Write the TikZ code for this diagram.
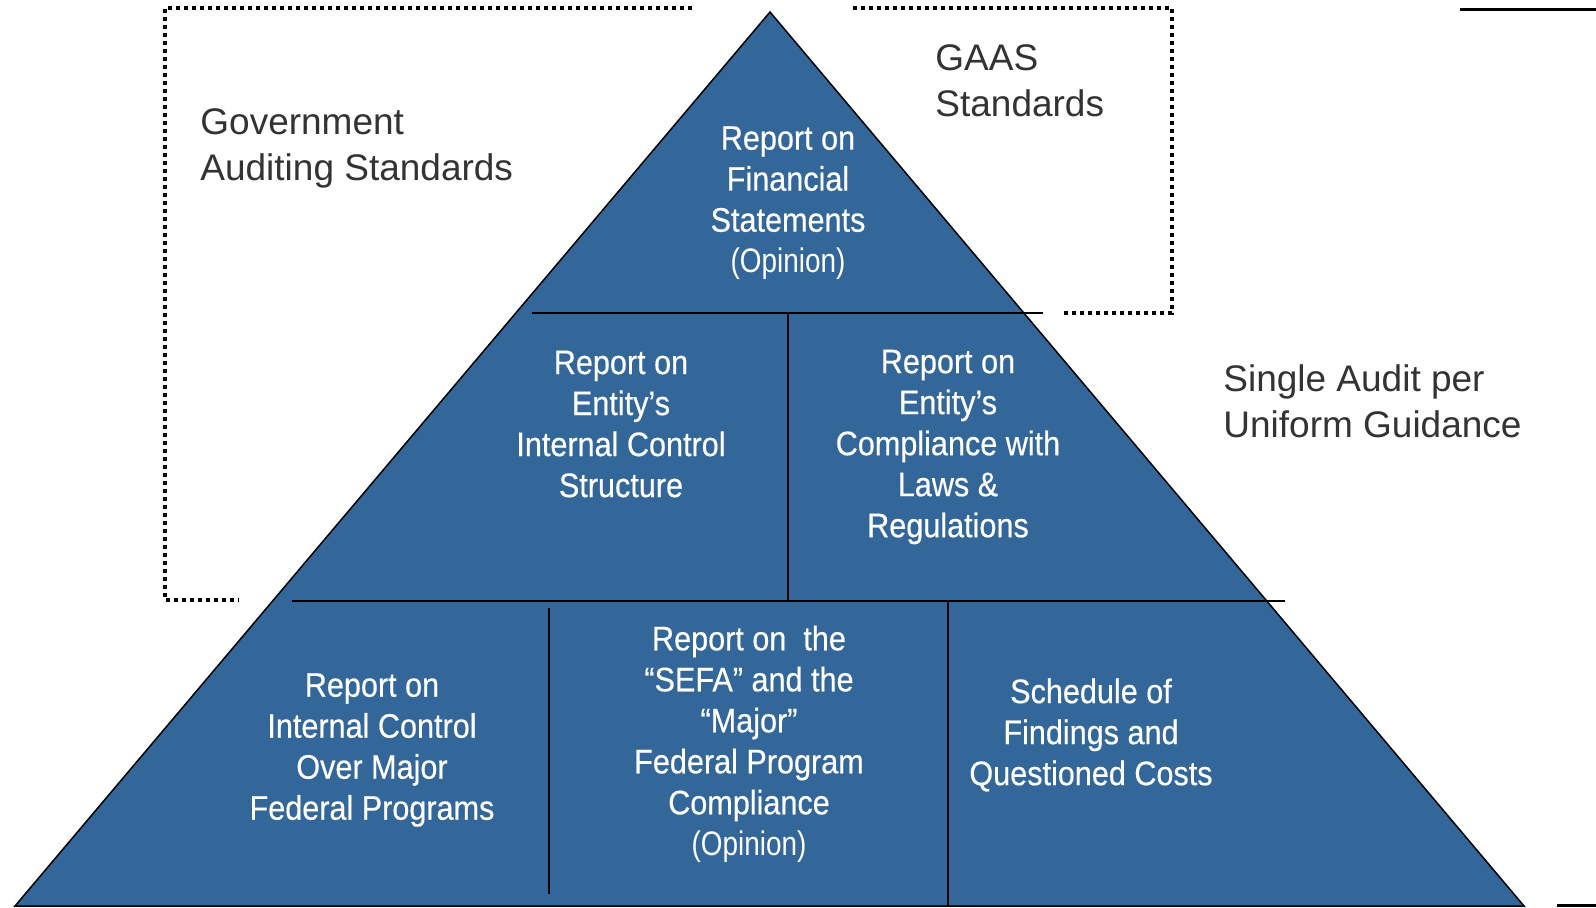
\documentclass[tikz,border=0pt]{standalone}
\usepackage{fontspec}
\usepackage{tikz}
\usepackage{xcolor}
\usetikzlibrary{calc}
\setmainfont{Liberation Sans}
\newfontfamily\narrowfont[FakeStretch=0.9,FakeBold=0.4]{Liberation Sans}
\newfontfamily\narrowlight[FakeStretch=0.82]{Liberation Sans}
\definecolor{pyramidblue}{RGB}{52,103,153}
\definecolor{labelgray}{RGB}{51,51,51}

\begin{document}
\begin{tikzpicture}[x=0.5pt,y=-0.5pt]
        \useasboundingbox (0,0) rectangle (1596,907);
        \tikzstyle{inside}=[text=white,align=center,inner sep=0pt,font=\narrowfont\fontsize{17}{20.5}\selectfont]
        \tikzstyle{outside}=[text=labelgray,align=left,anchor=west,inner sep=0pt,font=\fontsize{18.5}{23}\selectfont]
        \tikzstyle{divider}=[line width=1pt]
        \tikzstyle{dotbox}=[line width=1.8pt,dash pattern=on 1.8pt off 2.2pt]
        \tikzstyle{bar}=[line width=1.5pt]

        % pyramid
        \coordinate (top) at (770,12);
        \coordinate (bl) at (15,906);
        \coordinate (br) at (1524,906);
        \draw[fill=pyramidblue,line width=0.75pt] (top) -- (br) -- (bl) -- cycle;

        % rows and cells
        \draw[divider] (532,313) -- (1043,313);
        \draw[divider] (292,601) -- (1285,601);
        \draw[divider] (788,313) -- (788,601);
        \draw[divider] (549,608) -- (549,894);
        \draw[divider] (948,601) -- (948,906);

        \node[inside] (fs) at (788,203) {Report on\\Financial\\Statements\\{\narrowlight(Opinion)}};
        \node[inside] (ic) at (621,424) {Report on\\Entity’s\\Internal Control\\Structure};
        \node[inside] (cl) at ($(ic)+(327,23)$) {Report on\\Entity’s\\Compliance with\\Laws \&\\Regulations};
        \node[inside] (icm) at (372,750) {Report on\\Internal Control\\Over Major\\Federal Programs};
        \node[inside] (sefa) at (749,744) {Report on\ \ the\\“SEFA” and the\\“Major”\\Federal Program\\Compliance\\{\narrowlight(Opinion)}};
        \node[inside] (sch) at (1091,735) {Schedule of\\Findings and\\Questioned Costs};

        % standards boxes
        \draw[dotbox] (692,8) -- (165,8) -- (165,600) -- (239,600);
        \draw[dotbox] (853,8) -- (1172,8) -- (1172,313) -- (1061,313);

        \node[outside] (gas) at (200,148) {Government\\Auditing Standards};
        \node[outside] (gaas) at (935,81) {GAAS\\Standards};
        \node[outside] (ug) at (1223,401) {Single Audit per\\Uniform Guidance};

        \draw[bar] (1460,9) -- (1596,9);
        \draw[bar] (1557,905) -- (1596,905);
    \end{tikzpicture}
\end{document}
